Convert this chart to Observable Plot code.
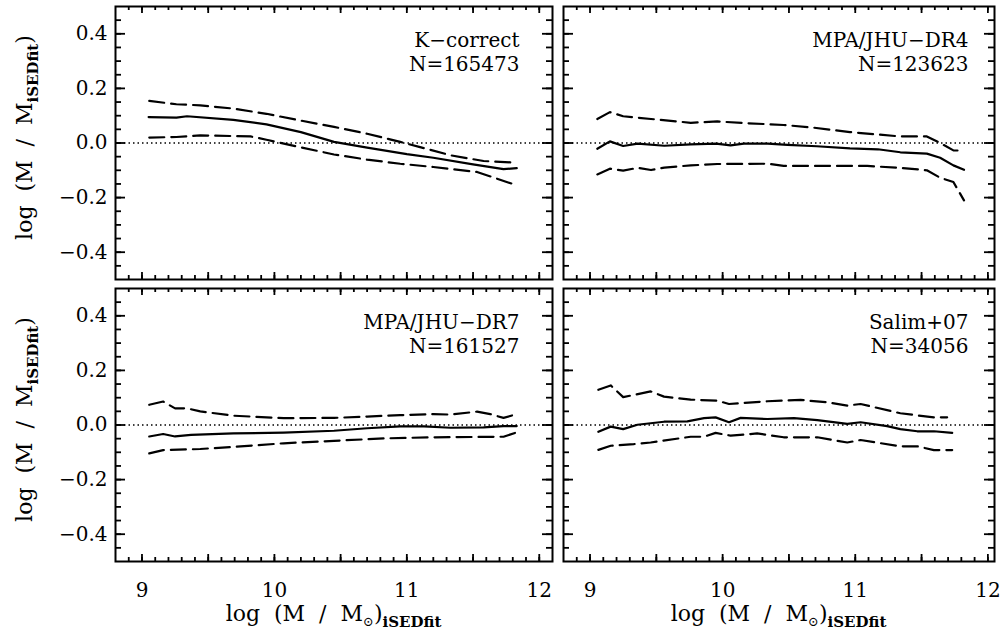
<!DOCTYPE html>
<html><head><meta charset="utf-8">
<script src="https://cdn.jsdelivr.net/npm/d3@7"></script>
<script src="https://cdn.jsdelivr.net/npm/@observablehq/plot@0.6"></script>
<style>
html,body{margin:0;padding:0;background:#fff;}
#chart{position:relative;width:1001px;height:635px;overflow:hidden;}
#chart svg{position:absolute;}
</style></head><body><div id="chart"></div>
<script>
// ---------- data ----------
const panelNames = ["K−correct", "MPA/JHU−DR4", "MPA/JHU−DR7", "Salim+07"];
const panelCounts = [165473, 123623, 161527, 34056];

const kcMedX = [9.05, 9.26, 9.34, 9.69, 9.94, 10.2, 10.45, 10.7, 11.0, 11.2, 11.5, 11.73, 11.83];
const kcMedY = [0.095, 0.093, 0.098, 0.085, 0.068, 0.040, 0.004, -0.017, -0.041, -0.054, -0.078, -0.096, -0.092];
const kcHiX = [9.055, 9.26, 9.44, 9.69, 9.94, 10.19, 10.45, 10.70, 10.95, 11.10, 11.33, 11.58, 11.83];
const kcHiY = [0.154, 0.142, 0.138, 0.126, 0.107, 0.083, 0.059, 0.034, 0.004, -0.015, -0.045, -0.066, -0.072];
const kcLoX = [9.055, 9.26, 9.44, 9.82, 9.94, 10.19, 10.45, 10.70, 10.95, 11.20, 11.53, 11.83];
const kcLoY = [0.020, 0.022, 0.028, 0.024, 0.012, -0.015, -0.042, -0.061, -0.076, -0.088, -0.106, -0.155];

const dr4MedX = [9.055, 9.15, 9.25, 9.36, 9.56, 9.76, 9.95, 10.06, 10.16, 10.34, 10.49, 10.71, 10.96, 11.17, 11.34, 11.54, 11.64, 11.74, 11.82];
const dr4MedY = [-0.021, 0.006, -0.011, -0.002, -0.010, -0.005, -0.002, -0.009, -0.002, -0.002, -0.007, -0.012, -0.020, -0.023, -0.034, -0.039, -0.054, -0.082, -0.098];
const dr4HiX = [9.055, 9.15, 9.25, 9.46, 9.76, 9.96, 10.16, 10.46, 10.69, 10.96, 11.34, 11.54, 11.64, 11.74, 11.82];
const dr4HiY = [0.088, 0.113, 0.098, 0.088, 0.074, 0.079, 0.073, 0.066, 0.056, 0.040, 0.024, 0.024, 0.000, -0.027, -0.028];
const dr4LoX = [9.055, 9.15, 9.25, 9.36, 9.46, 9.56, 9.76, 9.96, 10.34, 10.46, 10.84, 11.09, 11.34, 11.54, 11.64, 11.74, 11.82];
const dr4LoY = [-0.115, -0.094, -0.101, -0.091, -0.099, -0.090, -0.082, -0.077, -0.076, -0.084, -0.084, -0.084, -0.091, -0.100, -0.127, -0.143, -0.210];

const dr7MedX = [9.055, 9.16, 9.25, 9.37, 9.69, 10.07, 10.45, 10.70, 10.95, 11.13, 11.33, 11.58, 11.73, 11.83];
const dr7MedY = [-0.042, -0.033, -0.042, -0.036, -0.031, -0.028, -0.021, -0.012, -0.005, -0.005, -0.010, -0.009, -0.004, -0.004];
const dr7HiX = [9.055, 9.16, 9.25, 9.34, 9.44, 9.69, 9.94, 10.07, 10.45, 10.70, 10.95, 11.20, 11.33, 11.53, 11.63, 11.73, 11.83];
const dr7HiY = [0.074, 0.086, 0.061, 0.061, 0.050, 0.034, 0.028, 0.025, 0.026, 0.031, 0.036, 0.040, 0.038, 0.049, 0.040, 0.026, 0.040];
const dr7LoX = [9.055, 9.16, 9.44, 9.69, 10.07, 10.45, 10.83, 11.20, 11.73, 11.83];
const dr7LoY = [-0.104, -0.092, -0.088, -0.080, -0.067, -0.058, -0.049, -0.045, -0.043, -0.027];

const salMedX = [9.063, 9.156, 9.25, 9.357, 9.558, 9.734, 9.86, 9.947, 10.048, 10.136, 10.337, 10.538, 10.714, 10.94, 11.04, 11.24, 11.34, 11.467, 11.593, 11.731];
const salMedY = [-0.025, -0.006, -0.015, 0.001, 0.012, 0.013, 0.025, 0.028, 0.010, 0.026, 0.022, 0.025, 0.018, 0.004, 0.010, -0.004, -0.015, -0.023, -0.023, -0.029];
const salHiX = [9.063, 9.156, 9.25, 9.457, 9.558, 9.759, 9.96, 10.048, 10.337, 10.588, 10.789, 10.94, 11.04, 11.34, 11.44, 11.593, 11.693];
const salHiY = [0.129, 0.145, 0.102, 0.123, 0.104, 0.093, 0.089, 0.077, 0.087, 0.092, 0.083, 0.071, 0.077, 0.043, 0.037, 0.028, 0.028];
const salLoX = [9.063, 9.156, 9.33, 9.457, 9.759, 9.86, 9.947, 10.06, 10.26, 10.46, 10.714, 10.94, 11.04, 11.34, 11.467, 11.593, 11.731];
const salLoY = [-0.091, -0.076, -0.070, -0.064, -0.043, -0.043, -0.029, -0.039, -0.031, -0.045, -0.045, -0.064, -0.055, -0.078, -0.078, -0.092, -0.092];

// tick values
const xLabelTicks = [9, 10, 11, 12];
const xMajorTicks = [9, 9.5, 10, 10.5, 11, 11.5, 12];
const xMinorTicks = d3.range(89, 121).map(v => v / 10);
const yLabelTicks = [-0.4, -0.2, 0, 0.2, 0.4];
const yMinorTicks = d3.range(-9, 10).map(v => v * 0.05);

// ---------- layout ----------
const series = (xs, ys) => xs.map((x, i) => ({x, y: ys[i]}));
const FONT = "'DejaVu Serif', 'Liberation Serif', serif";

const panels = [
  {i: 0, med: [kcMedX, kcMedY], hi: [kcHiX, kcHiY], lo: [kcLoX, kcLoY],
   left: 0, top: 0, width: 557, height: 284, ml: 115, mr: 5, mt: 6, mb: 5, xmax: 12.1, textDx: -33, yLab: true, xLab: false},
  {i: 1, med: [dr4MedX, dr4MedY], hi: [dr4HiX, dr4HiY], lo: [dr4LoX, dr4LoY],
   left: 557, top: 0, width: 444, height: 284, ml: 6, mr: 7, mt: 6, mb: 5, xmax: 12.05, textDx: -26, yLab: false, xLab: false},
  {i: 2, med: [dr7MedX, dr7MedY], hi: [dr7HiX, dr7HiY], lo: [dr7LoX, dr7LoY],
   left: 0, top: 284, width: 557, height: 351, ml: 115, mr: 5, mt: 4, mb: 74, xmax: 12.1, textDx: -33, yLab: true, xLab: true},
  {i: 3, med: [salMedX, salMedY], hi: [salHiX, salHiY], lo: [salLoX, salLoY],
   left: 557, top: 284, width: 444, height: 351, ml: 6, mr: 7, mt: 4, mb: 74, xmax: 12.05, textDx: -26, yLab: false, xLab: true}
];

const chart = document.getElementById("chart");

// inward tick marks drawn as insets of full-frame rules
function xTicks(values, len, H) {
  return [
    Plot.ruleX(values, {x: d => d, insetTop: H - len, strokeWidth: 1.8, stroke: "black"}),
    Plot.ruleX(values, {x: d => d, insetBottom: H - len, strokeWidth: 1.8, stroke: "black"})
  ];
}
function yTicks(values, len, W) {
  return [
    Plot.ruleY(values, {y: d => d, insetRight: W - len, strokeWidth: 1.8, stroke: "black"}),
    Plot.ruleY(values, {y: d => d, insetLeft: W - len, strokeWidth: 1.8, stroke: "black"})
  ];
}

for (const p of panels) {
  const W = p.width - p.ml - p.mr;
  const H = p.height - p.mt - p.mb;
  const marks = [
    Plot.ruleY([0], {strokeDasharray: "1.5,3", strokeWidth: 1.3}),
    Plot.line(series(...p.hi), {x: "x", y: "y", strokeWidth: 2.2, strokeDasharray: "15,7"}),
    Plot.line(series(...p.lo), {x: "x", y: "y", strokeWidth: 2.2, strokeDasharray: "15,7"}),
    Plot.line(series(...p.med), {x: "x", y: "y", strokeWidth: 2.2}),
    ...xTicks(xMinorTicks, 4, H),
    ...xTicks(xMajorTicks, 7, H),
    ...yTicks(yMinorTicks, 6, W),
    ...yTicks(yLabelTicks, 10, W),
    Plot.frame({strokeWidth: 2}),
    Plot.text([`${panelNames[p.i]}\nN=${panelCounts[p.i]}`], {
      frameAnchor: "top-right", textAnchor: "end", lineAnchor: "top",
      dx: p.textDx, dy: 23, lineHeight: 1.2, fontSize: 20, letterSpacing: 0.5
    })
  ];
  if (p.yLab) marks.push(Plot.axisY(yLabelTicks, {anchor: "left", tickSize: 0, tickPadding: 8,
    tickFormat: d3.format(".1f"), label: null, fontSize: 20}));
  if (p.xLab) marks.push(Plot.axisX(xLabelTicks, {anchor: "bottom", tickSize: 0, tickPadding: 21,
    tickFormat: d3.format("d"), label: null, fontSize: 20}));

  const svg = Plot.plot({
    width: p.width, height: p.height,
    marginLeft: p.ml, marginRight: p.mr, marginTop: p.mt, marginBottom: p.mb,
    x: {domain: [8.8, p.xmax], axis: null},
    y: {domain: [-0.5, 0.5], axis: null},
    style: {fontFamily: FONT, fontSize: "20px", background: "transparent", color: "black", overflow: "visible"},
    marks
  });
  svg.style.left = p.left + "px";
  svg.style.top = p.top + "px";
  const s = d3.select(svg);
  const cy = p.mt + H / 2;
  if (p.yLab) {
    const t = s.append("text")
      .attr("transform", `translate(32,${cy - 5}) rotate(-90)`)
      .attr("text-anchor", "middle").attr("font-family", FONT).attr("font-size", 22)
      .attr("fill", "black").style("white-space", "pre");
    t.append("tspan").text("log  (M  /  M");
    t.append("tspan").attr("font-size", 15).attr("font-weight", "bold").attr("dy", 6).text("iSEDfit");
    t.append("tspan").attr("dy", -6).text(")");
  }
  if (p.xLab) {
    const cx = p.ml + W / 2;
    const t = s.append("text")
      .attr("x", cx).attr("y", p.height - 14)
      .attr("text-anchor", "middle").attr("font-family", FONT).attr("font-size", 22)
      .attr("fill", "black").style("white-space", "pre");
    t.append("tspan").text("log  (M  /  M");
    t.append("tspan").attr("font-size", 13).attr("dy", 5).text("⊙");
    t.append("tspan").attr("dy", -5).text(")");
    t.append("tspan").attr("font-size", 15).attr("font-weight", "bold").attr("dy", 6).text("iSEDfit");
  }
  chart.appendChild(svg);
}
</script></body></html>
